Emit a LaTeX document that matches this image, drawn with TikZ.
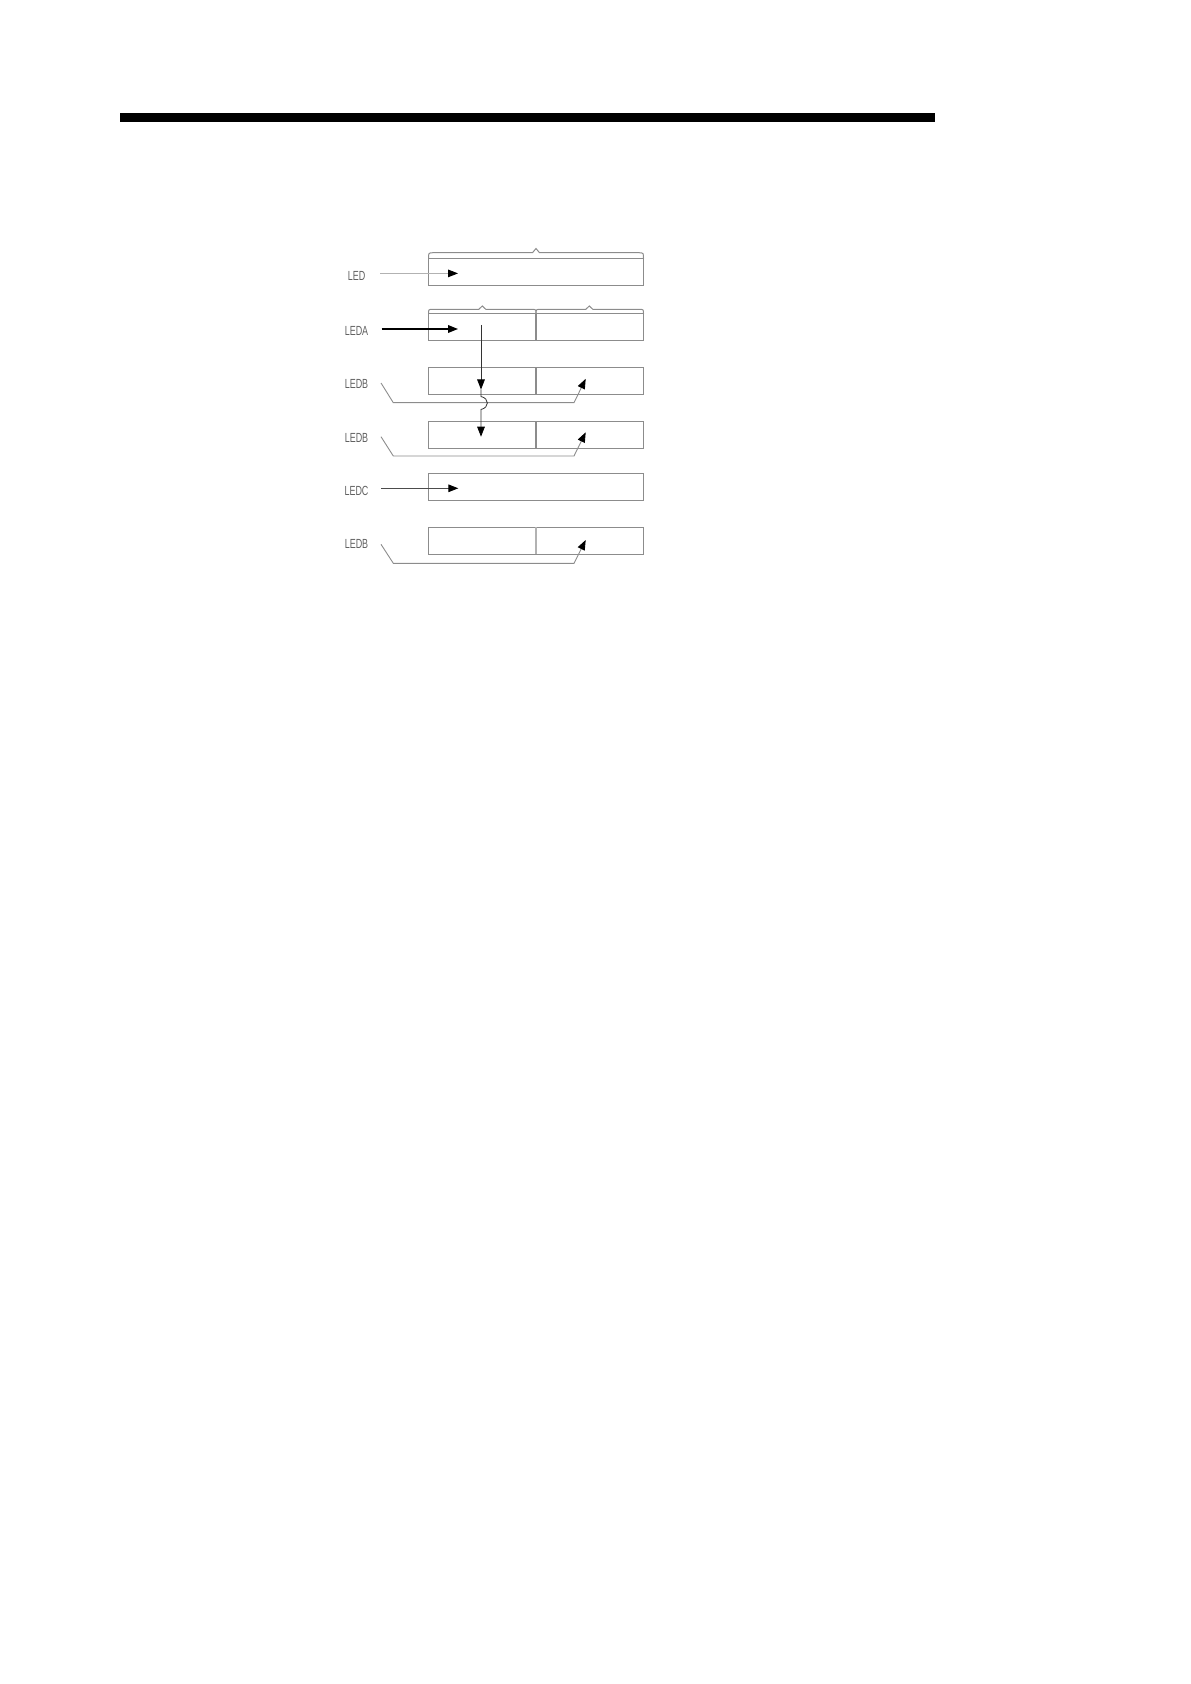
\documentclass[tikz,border=0pt]{standalone}
\usepackage{fontspec}
\newfontfamily\lblfont{Liberation Sans}[FakeStretch=0.68]
\usetikzlibrary{arrows.meta}
\definecolor{boxgray}{gray}{0.55}
\definecolor{txtgray}{gray}{0.38}
\tikzset{
  box/.style={draw=boxgray, line width=0.6pt, inner sep=0pt, outer sep=0pt,
              minimum width=107.5pt, minimum height=13.5pt},
  divider/.style={draw=boxgray, line width=0.6pt},
  lbl/.style={font=\lblfont\fontsize{6.6pt}{7pt}\selectfont, text=txtgray, inner sep=0pt},
  tip/.style={-{Triangle[length=5pt,width=3.8pt,color=black,fill=black]}},
  gline/.style={draw=boxgray, line width=0.45pt},
  bline/.style={draw=black, line width=0.5pt},
  brace/.style={draw=boxgray, line width=0.5pt}
}
\begin{document}
\begin{tikzpicture}[x=0.5pt,y=-0.5pt]
\useasboundingbox (0,0) rectangle (1190,1684);
% top rule
\fill[black] (120,113) rectangle (935,122);

% boxes
\node[box] (led)  at (536,271.9) {};
\node[box] (leda) at (536,327)   {};
\node[box] (b1)   at (536,381)   {};
\node[box] (b2)   at (536,434.7) {};
\node[box] (ledc) at (536,486.7) {};
\node[box] (b3)   at (536,540.8) {};
\draw[divider] (leda.north) -- (leda.south);
\draw[divider] (b1.north) -- (b1.south);
\draw[divider] (b2.north) -- (b2.south);
\draw[divider, draw=black!30] (b3.north) -- (b3.south);

% braces
\draw[brace] (led.north west) .. controls (428.5,253) .. (433,252.7) -- (532.5,252.7)
  -- (536,248.5) -- (539.5,252.7) -- (639,252.7) .. controls (643.5,253) .. (led.north east);
\draw[brace] (leda.north west) .. controls (428.5,309.5) .. (432.5,309.3) -- (478.8,309.3)
  -- (482.3,306) -- (485.8,309.3) -- (532,309.3) .. controls (536,309.5) .. (leda.north);
\draw[brace] (leda.north) .. controls (536,309.5) .. (540,309.3) -- (585.8,309.3)
  -- (589.3,306) -- (592.8,309.3) -- (639.5,309.3) .. controls (643.5,309.5) .. (leda.north east);

% labels
\node[lbl] (lLED)  at (356.5,275.8) {LED};
\node[lbl] (lLEDA) at (356.5,331)   {LEDA};
\node[lbl] (lB1)   at (356.5,384)   {LEDB};
\node[lbl] (lB2)   at (356.5,437.5) {LEDB};
\node[lbl] (lLEDC) at (356.5,490.7) {LEDC};
\node[lbl] (lB3)   at (356.5,544)   {LEDB};

% coordinates
\coordinate (sLED) at (380,273.4);
\coordinate (tLED) at (458,273.4);
\coordinate (sA) at (381.5,329);
\coordinate (tA) at (458,329);
\coordinate (sC) at (381,488.3);
\coordinate (tC) at (458.3,488.3);
\coordinate (v0) at (481,325);
\coordinate (v1) at (481,389.5);
\coordinate (v2) at (481,436.7);
\coordinate (s1) at (381,383);
\coordinate (t1) at (585.7,378.8);
\coordinate (s2) at (381,436.7);
\coordinate (t2) at (585.7,432.3);
\coordinate (s3) at (381,544.3);
\coordinate (t3) at (585.7,540);

% horizontal arrows
\draw[gline, draw=black!30, tip] (sLED) -- (tLED);
\draw[bline, line width=0.8pt, tip] (sA) -- (tA);
\draw[gline, draw=black!70, tip] (sC) -- (tC);

% LEDB connectors
\draw[gline, tip] (s1) -- (393.3,402.7) -- (574,402.7) -- (t1);
\draw[gline, tip] (s2) -- (393.3,456) -- (574,456) -- (t2);
\draw[gline, tip] (s3) -- (393.3,563.3) -- (574,563.3) -- (t3);

% vertical transfer arrow with hop
\draw[bline, line width=0.4pt, draw=black!80, tip] (v0) -- (v1);
\draw[bline, line width=0.4pt, draw=black!80, tip] (v1) -- (481,396.5)
  .. controls (489.5,398.5) and (489.5,407.5) .. (481,409.5) -- (v2);
\end{tikzpicture}
\end{document}
